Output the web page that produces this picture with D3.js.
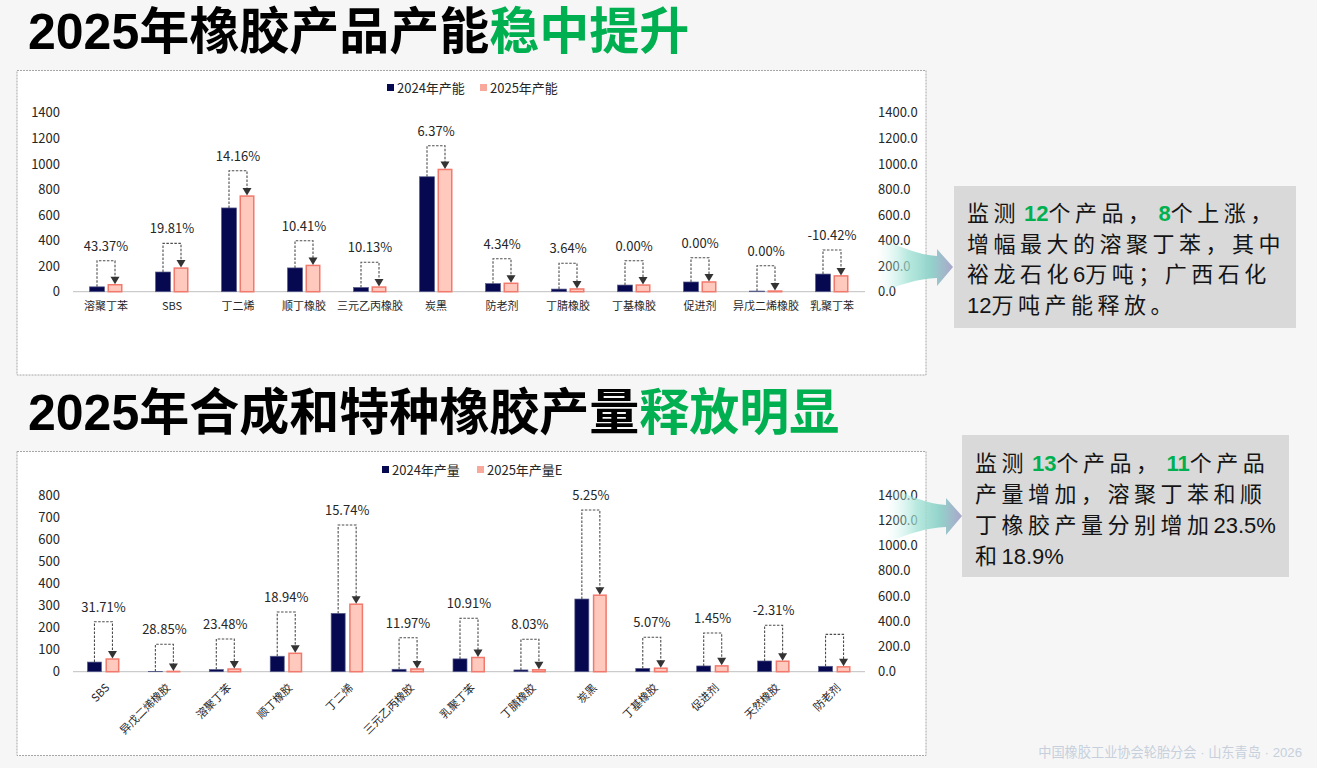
<!DOCTYPE html>
<html>
<head>
<meta charset="utf-8">
<script src="https://cdn.jsdelivr.net/npm/d3@7"></script>
<title>2025年橡胶产品产能</title>
<style>
  body { margin: 0; background: #f6f6f6; }
  svg { display: block; }
</style>
</head>
<body>
<svg id="slide" width="1317" height="768"></svg>
<script>
// ---- top chart: capacity ----
var capCategories = ["溶聚丁苯", "SBS", "丁二烯", "顺丁橡胶", "三元乙丙橡胶", "炭黑", "防老剂", "丁腈橡胶", "丁基橡胶", "促进剂", "异戊二烯橡胶", "乳聚丁苯"];
var cap2024 = [38, 154, 655, 186, 33, 899, 63, 20.6, 52, 76, 5, 138];
var cap2025 = [54.5, 184.5, 748, 205.4, 36.3, 956, 65.7, 21.4, 52, 76, 5, 123.6];
var capChange = ["43.37%", "19.81%", "14.16%", "10.41%", "10.13%", "6.37%", "4.34%", "3.64%", "0.00%", "0.00%", "0.00%", "-10.42%"];
var capArrowLevel = [242, 378, 946, 399, 230, 1141, 258, 222, 242, 266, 203, 326];
var capTicks = [0, 200, 400, 600, 800, 1000, 1200, 1400];

// ---- bottom chart: output ----
var prodCategories = ["SBS", "异戊二烯橡胶", "溶聚丁苯", "顺丁橡胶", "丁二烯", "三元乙丙橡胶", "乳聚丁苯", "丁腈橡胶", "炭黑", "丁基橡胶", "促进剂", "天然橡胶", "防老剂"];
var prod2024 = [43.6, 1.04, 9.8, 70, 264, 11, 58, 8, 329, 15, 26, 48.5, 24.5];
var prod2025 = [57.4, 1.34, 12.1, 83.3, 305.6, 12.3, 64.3, 8.64, 346.3, 15.8, 26.4, 47.4, 22];
var prodChange = ["31.71%", "28.85%", "23.48%", "18.94%", "15.74%", "11.97%", "10.91%", "8.03%", "5.25%", "5.07%", "1.45%", "-2.31%", ""];
var prodArrowLevel = [226, 124, 148, 270, 664, 154, 242, 147, 732, 156, 175, 210, 169];
var prodTicks = [0, 100, 200, 300, 400, 500, 600, 700, 800];
var rightTicks = [0, 200, 400, 600, 800, 1000, 1200, 1400];

var CJK = "'Noto Sans CJK SC', sans-serif";
var LAT = "'Liberation Sans', 'Noto Sans CJK SC', sans-serif";
var navy = "#060850", pink = "#ffc9bd", pinkLine = "#f2796c", green = "#00b050";

var svg = d3.select("#slide");

// gradient for the block arrows
var grad = svg.append("defs").append("linearGradient").attr("id", "tealArrow");
grad.append("stop").attr("offset", "0%").attr("stop-color", "#c9f1ea").attr("stop-opacity", 0);
grad.append("stop").attr("offset", "40%").attr("stop-color", "#9fe1d4").attr("stop-opacity", 0.75);
grad.append("stop").attr("offset", "70%").attr("stop-color", "#93d3cb");
grad.append("stop").attr("offset", "100%").attr("stop-color", "#aaa6ca");

// titles
function title(y, black, greenPart) {
  var t = svg.append("text")
    .attr("x", 28).attr("y", y)
    .attr("font-family", LAT).attr("font-weight", "bold").attr("font-size", 50);
  t.append("tspan").attr("fill", "#000").text(black);
  t.append("tspan").attr("fill", green).text(greenPart);
}
title(48.5, "2025年橡胶产品产能", "稳中提升");
title(429.5, "2025年合成和特种橡胶产量", "释放明显");

// chart panels
function panel(y, h) {
  svg.append("rect")
    .attr("x", 17).attr("y", y).attr("width", 909).attr("height", h)
    .attr("fill", "#fff").attr("stroke", "#a6a6a6").attr("stroke-dasharray", "2,1");
}
panel(70.5, 304.5);
panel(451.5, 304);

function drawChart(opt) {
  var g = svg.append("g");
  var x = d3.scaleBand().domain(opt.categories).range([73, 865]);
  var bw = x.bandwidth();
  var inner = d3.scaleBand().domain(["2024", "2025"])
    .range([bw / 2 - opt.groupW / 2, bw / 2 + opt.groupW / 2])
    .paddingInner(opt.gap);
  var y = d3.scaleLinear().domain([0, opt.leftMax]).range([opt.y0, opt.y1]);
  var yR = d3.scaleLinear().domain([0, 1400]).range([opt.y0, opt.y1]);

  // axes
  var ax = g.append("g").attr("transform", "translate(73,0)")
    .call(d3.axisLeft(y).tickValues(opt.leftTicks).tickSize(0).tickPadding(13).tickFormat(d3.format("d")));
  ax.select(".domain").remove();
  var axR = g.append("g").attr("transform", "translate(865,0)")
    .call(d3.axisRight(yR).tickValues(rightTicks).tickSize(0).tickPadding(13).tickFormat(d3.format(".1f")));
  axR.select(".domain").remove();
  [ax, axR].forEach(function(a) {
    a.attr("font-family", CJK).attr("font-size", 13);
    a.selectAll("text").attr("fill", "#262626");
  });

  g.append("line")
    .attr("x1", 73).attr("x2", 865).attr("y1", opt.y0).attr("y2", opt.y0)
    .attr("stroke", "#bfbfbf").attr("stroke-width", 1);

  // category labels
  if (opt.rotate) {
    g.selectAll(".cat").data(opt.categories).enter().append("text")
      .attr("class", "cat")
      .attr("transform", function(d) { return "translate(" + (x(d) + bw / 2 + 4) + "," + (opt.y0 + 14) + ") rotate(-45)"; })
      .attr("text-anchor", "end").attr("dy", "0.35em")
      .attr("font-family", CJK).attr("font-size", 11).attr("fill", "#262626")
      .text(function(d) { return d; });
  } else {
    var axB = g.append("g").attr("transform", "translate(0," + opt.y0 + ")")
      .call(d3.axisBottom(x).tickSize(0).tickPadding(11));
    axB.select(".domain").remove();
    axB.attr("font-family", CJK).attr("font-size", 11);
    axB.selectAll("text").attr("fill", "#262626");
  }

  var rows = opt.categories.map(function(c, i) {
    return { cat: c, a: opt.s2024[i], b: opt.s2025[i], pct: opt.change[i], lvl: opt.level[i] };
  });

  // bars
  g.selectAll(".b24").data(rows).enter().append("rect")
    .attr("class", "b24")
    .attr("x", function(d) { return x(d.cat) + inner("2024"); })
    .attr("y", function(d) { return y(d.a); })
    .attr("width", inner.bandwidth())
    .attr("height", function(d) { return y(0) - y(d.a); })
    .attr("fill", navy).attr("stroke", "#5a5e8c").attr("stroke-width", 0.7);
  g.selectAll(".b25").data(rows).enter().append("rect")
    .attr("class", "b25")
    .attr("x", function(d) { return x(d.cat) + inner("2025") + 0.75; })
    .attr("y", function(d) { return y(d.b); })
    .attr("width", inner.bandwidth() - 1.5)
    .attr("height", function(d) { return y(0) - y(d.b); })
    .attr("fill", pink).attr("stroke", pinkLine).attr("stroke-width", 1.5);

  // dashed change brackets
  function cx(d, s) { return x(d.cat) + inner(s) + inner.bandwidth() / 2; }
  g.selectAll(".brk").data(rows).enter().append("path")
    .attr("class", "brk")
    .attr("d", function(d) {
      return "M" + cx(d, "2024") + "," + y(d.a) + "V" + y(d.lvl) + "H" + cx(d, "2025") + "V" + (y(d.b) - 7);
    })
    .attr("fill", "none").attr("stroke", "#4d4d4d").attr("stroke-width", 1.1)
    .attr("stroke-dasharray", "2.5,1.5");
  g.selectAll(".tip").data(rows).enter().append("path")
    .attr("class", "tip")
    .attr("d", function(d) {
      var px = cx(d, "2025"), py = y(d.b);
      return "M" + (px - 4.5) + "," + (py - 8) + "L" + (px + 4.5) + "," + (py - 8) + "L" + px + "," + (py - 0.5) + "Z";
    })
    .attr("fill", "#333");
  g.selectAll(".pct").data(rows).enter().append("text")
    .attr("class", "pct")
    .attr("x", function(d) { return x(d.cat) + bw / 2; })
    .attr("y", function(d) { return y(d.lvl) - 10; })
    .attr("text-anchor", "middle")
    .attr("font-family", CJK).attr("font-size", 13).attr("fill", "#262626")
    .text(function(d) { return d.pct; });

  // legend
  var lg = g.append("g").attr("font-family", CJK).attr("font-size", 13).attr("fill", "#262626");
  opt.legend.forEach(function(l, i) {
    lg.append("rect").attr("x", l.x).attr("y", opt.legendY - 4).attr("width", 7).attr("height", 7)
      .attr("fill", i === 0 ? navy : "#f9a89c");
    lg.append("text").attr("x", l.x + 10).attr("y", opt.legendY).attr("dy", "0.35em").text(l.text);
  });
}

drawChart({
  categories: capCategories, s2024: cap2024, s2025: cap2025, change: capChange, level: capArrowLevel,
  leftMax: 1400, leftTicks: capTicks, y0: 291.7, y1: 112.7, groupW: 33, gap: 0.1667, rotate: false,
  legendY: 88, legend: [{ x: 387, text: "2024年产能" }, { x: 480, text: "2025年产能" }]
});
drawChart({
  categories: prodCategories, s2024: prod2024, s2025: prod2025, change: prodChange, level: prodArrowLevel,
  leftMax: 800, leftTicks: prodTicks, y0: 671.7, y1: 495, groupW: 32, gap: 0.222, rotate: true,
  legendY: 470, legend: [{ x: 382, text: "2024年产量" }, { x: 477, text: "2025年产量E" }]
});

// block arrows pointing at the notes
function blockArrow(dx, dy) {
  svg.append("path")
    .attr("transform", "translate(" + dx + "," + dy + ")")
    .attr("d", "M878,238 C900,246 918,255 937,256 L937,249 L953,267 L937,286 L937,278 C918,279 900,284 878,294 Z")
    .attr("fill", "url(#tealArrow)");
}
blockArrow(0, 0);
blockArrow(9, 249);

// note boxes
function note(box, lines) {
  svg.append("rect")
    .attr("x", box.x).attr("y", box.y).attr("width", box.w).attr("height", box.h)
    .attr("fill", "#d9d9d9");
  lines.forEach(function(segs, i) {
    var t = svg.append("text")
      .attr("x", box.tx).attr("y", box.ty + i * box.lh)
      .attr("font-size", 22).attr("fill", "#141414");
    segs.forEach(function(s) {
      var sp = t.append("tspan").text(s[0]);
      if (s[1] === "g") {
        sp.attr("fill", green).attr("font-weight", "bold").attr("font-family", LAT).attr("dx", 4);
      } else if (s[1] === "n") {
        sp.attr("font-family", LAT);
      } else {
        sp.attr("font-family", CJK).attr("letter-spacing", 4.5);
      }
    });
  });
}
note({ x: 954, y: 186, w: 342, h: 142, tx: 967, ty: 221, lh: 30.5 }, [
  [["监测"], ["12", "g"], ["个产品，"], ["8", "g"], ["个上涨，"]],
  [["增幅最大的溶聚丁苯，其中"]],
  [["裕龙石化"], ["6", "n"], ["万吨；广西石化"]],
  [["12", "n"], ["万吨产能释放。"]]
]);
note({ x: 962, y: 435, w: 327, h: 142, tx: 975, ty: 471, lh: 31 }, [
  [["监测"], ["13", "g"], ["个产品，"], ["11", "g"], ["个产品"]],
  [["产量增加，溶聚丁苯和顺"]],
  [["丁橡胶产量分别增加"], ["23.5%", "n"]],
  [["和"], ["18.9%", "n"]]
]);

// footer
svg.append("text")
  .attr("x", 1302).attr("y", 757).attr("text-anchor", "end")
  .attr("font-family", LAT).attr("font-size", 13.2).attr("fill", "#c6d0dc")
  .text("中国橡胶工业协会轮胎分会 · 山东青岛 · 2026");
</script>
</body>
</html>
